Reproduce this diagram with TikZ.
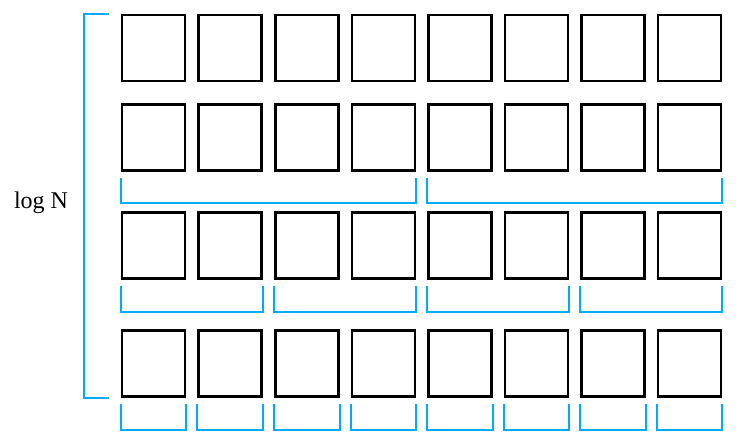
\documentclass[tikz,border=0pt]{standalone}
\usepackage{fontspec}
\setmainfont{Liberation Serif}
\usepackage{tikz}
\definecolor{brkblue}{RGB}{0,172,250}
\tikzset{
	cell/.style={
		rectangle,
		draw,
		line width=2.2pt,
		minimum width=63pt,
		minimum height=66pt,
		inner sep=0pt
	},
	bracket/.style={
		draw=brkblue,
		line width=2pt
	},
}

\begin{document}
\begin{tikzpicture}[x=1pt,y=-1pt]
\useasboundingbox (0,0) rectangle (739,444);

% level 1
\node[cell] (r1c1) at (153.5,48) {};
\node[cell] (r1c2) at (230,48) {};
\node[cell] (r1c3) at (307,48) {};
\node[cell] (r1c4) at (383.5,48) {};
\node[cell] (r1c5) at (460,48) {};
\node[cell] (r1c6) at (536.5,48) {};
\node[cell] (r1c7) at (613,48) {};
\node[cell] (r1c8) at (689.5,48) {};
% level 2
	\node[cell] (r2c1) at (153.5,137.5) {};
	\node[cell] (r2c2) at (230,137.5) {};
	\node[cell] (r2c3) at (307,137.5) {};
	\node[cell] (r2c4) at (383.5,137.5) {};
	\node[cell] (r2c5) at (460,137.5) {};
	\node[cell] (r2c6) at (536.5,137.5) {};
	\node[cell] (r2c7) at (613,137.5) {};
	\node[cell] (r2c8) at (689.5,137.5) {};
% level 3
		\node[cell] (r3c1) at (153.5,245.5) {};
		\node[cell] (r3c2) at (230,245.5) {};
		\node[cell] (r3c3) at (307,245.5) {};
		\node[cell] (r3c4) at (383.5,245.5) {};
		\node[cell] (r3c5) at (460,245.5) {};
		\node[cell] (r3c6) at (536.5,245.5) {};
		\node[cell] (r3c7) at (613,245.5) {};
		\node[cell] (r3c8) at (689.5,245.5) {};
% level 4
			\node[cell] (r4c1) at (153.5,363.5) {};
			\node[cell] (r4c2) at (230,363.5) {};
			\node[cell] (r4c3) at (307,363.5) {};
			\node[cell] (r4c4) at (383.5,363.5) {};
			\node[cell] (r4c5) at (460,363.5) {};
			\node[cell] (r4c6) at (536.5,363.5) {};
			\node[cell] (r4c7) at (613,363.5) {};
			\node[cell] (r4c8) at (689.5,363.5) {};

\node[anchor=base,font=\fontsize{24}{28}\selectfont] (logN) at (41,208) {log N};

\draw[bracket] ([xshift=-12pt]r1c1.north west) -| ([xshift=-37pt]r4c1.south west) -- ([xshift=-12pt]r4c1.south west);

%\draw[bracket] (r2c1) -- (r2c8);
\draw[bracket] ([yshift=-6pt]r2c1.south west) -- ++(0,25) -| ([yshift=-6pt]r2c4.south east);
\draw[bracket] ([yshift=-6pt]r2c5.south west) -- ++(0,25) -| ([yshift=-6pt]r2c8.south east);

\draw[bracket] ([yshift=-6pt]r3c1.south west) -- ++(0,26) -| ([yshift=-6pt]r3c2.south east);
\draw[bracket] ([yshift=-6pt]r3c3.south west) -- ++(0,26) -| ([yshift=-6pt]r3c4.south east);
\draw[bracket] ([yshift=-6pt]r3c5.south west) -- ++(0,26) -| ([yshift=-6pt]r3c6.south east);
\draw[bracket] ([yshift=-6pt]r3c7.south west) -- ++(0,26) -| ([yshift=-6pt]r3c8.south east);

\draw[bracket] ([yshift=-6pt]r4c1.south west) -- ++(0,26) -| ([yshift=-6pt]r4c1.south east);
\draw[bracket] ([yshift=-6pt]r4c2.south west) -- ++(0,26) -| ([yshift=-6pt]r4c2.south east);
\draw[bracket] ([yshift=-6pt]r4c3.south west) -- ++(0,26) -| ([yshift=-6pt]r4c3.south east);
\draw[bracket] ([yshift=-6pt]r4c4.south west) -- ++(0,26) -| ([yshift=-6pt]r4c4.south east);
\draw[bracket] ([yshift=-6pt]r4c5.south west) -- ++(0,26) -| ([yshift=-6pt]r4c5.south east);
\draw[bracket] ([yshift=-6pt]r4c6.south west) -- ++(0,26) -| ([yshift=-6pt]r4c6.south east);
\draw[bracket] ([yshift=-6pt]r4c7.south west) -- ++(0,26) -| ([yshift=-6pt]r4c7.south east);
\draw[bracket] ([yshift=-6pt]r4c8.south west) -- ++(0,26) -| ([yshift=-6pt]r4c8.south east);

\end{tikzpicture}
\end{document}
